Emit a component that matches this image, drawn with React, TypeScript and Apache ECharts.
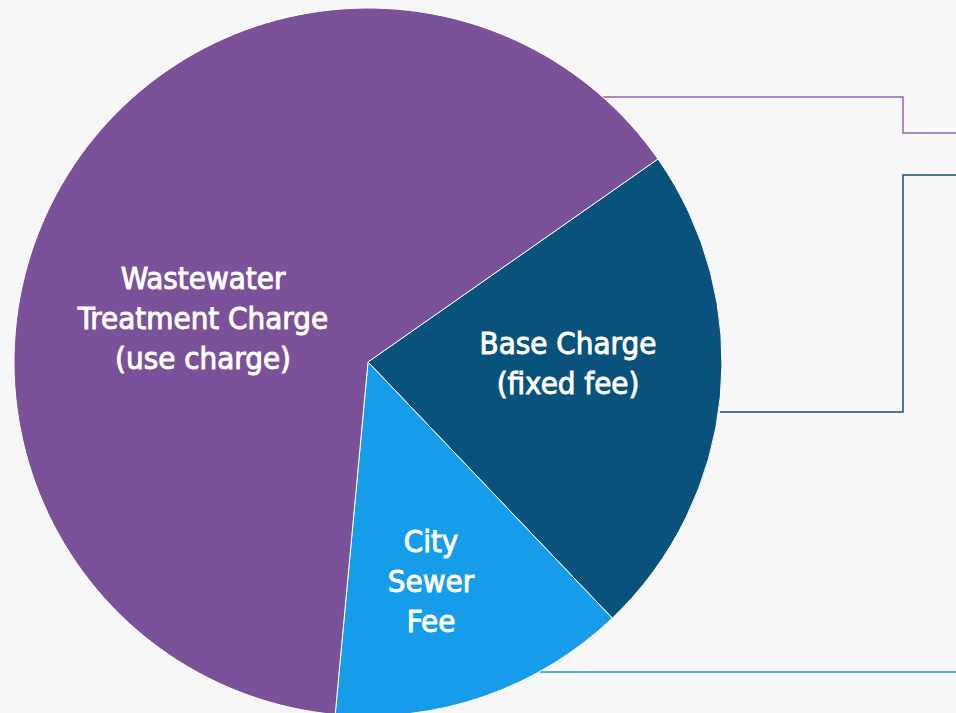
import React, { useEffect, useRef } from "react";
import * as echarts from "echarts";

const categories = ["Base Charge", "City Sewer Fee", "Wastewater Treatment Charge"];
const values = [22.6, 13.6, 63.8];
const labelTexts = ["Base Charge\n(fixed fee)", "City\nSewer\nFee", "Wastewater\nTreatment Charge\n(use charge)"];
const colors = ["#08527B", "#169CE8", "#7B5299"];
const labelPos: [number, number][] = [[568, 363], [431, 581], [203, 318]];

const FONT = "'DejaVu Sans Condensed', 'Liberation Sans Narrow', 'Roboto', sans-serif";

export default function App() {
  const ref = useRef<HTMLDivElement>(null);
  useEffect(() => {
    if (!ref.current) return;
    const chart = echarts.init(ref.current, undefined, { renderer: "svg" });
    chart.setOption({
      animation: false,
      backgroundColor: "#F7F7F7",
      series: [
        {
          type: "pie",
          center: [368, 362],
          radius: 354,
          startAngle: 35,
          clockwise: true,
          silent: true,
          itemStyle: { borderColor: "#FFFFFF", borderWidth: 1 },
          label: {
            show: true,
            position: "inside",
            color: "#FFFFFF",
            fontFamily: FONT,
            fontSize: 31,
            lineHeight: 40,
            align: "center",
            textBorderColor: "#FFFFFF",
            textBorderWidth: 0.9,
          },
          labelLine: { show: false },
          labelLayout: (params: any) => {
            const p = labelPos[params.dataIndex];
            return { x: p[0], y: p[1], align: "center", verticalAlign: "middle" };
          },
          data: categories.map((c, i) => ({
            name: c,
            value: values[i],
            itemStyle: { color: colors[i] },
            label: { formatter: labelTexts[i] },
          })),
        },
      ],
      graphic: [
        {
          type: "polyline",
          shape: { points: [[603, 97], [903, 97], [903, 133], [960, 133]] },
          style: { stroke: "#9167AE", lineWidth: 1.5, fill: null },
          silent: true,
        },
        {
          type: "polyline",
          shape: { points: [[720, 412], [903, 412], [903, 175], [960, 175]] },
          style: { stroke: "#1B4F72", lineWidth: 1.5, fill: null },
          silent: true,
        },
        {
          type: "polyline",
          shape: { points: [[540, 672], [960, 672]] },
          style: { stroke: "#2396DA", lineWidth: 1.5, fill: null },
          silent: true,
        },
      ],
    });
    return () => chart.dispose();
  }, []);
  return (
    <div
      ref={ref}
      style={{ position: "fixed", left: 0, top: 0, width: 956, height: 713 }}
    />
  );
}
